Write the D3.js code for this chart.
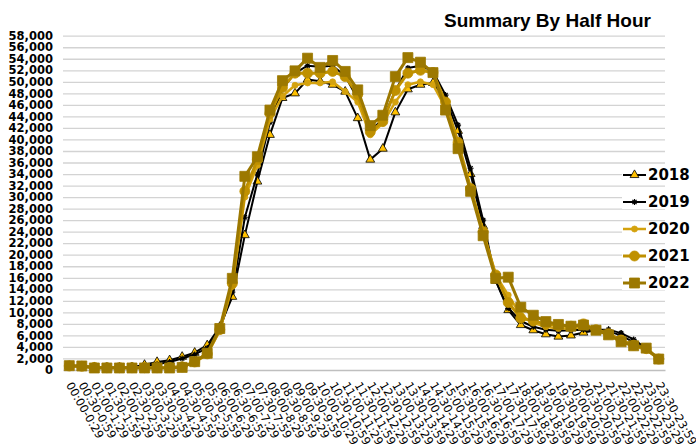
<!DOCTYPE html>
<html><head><meta charset="utf-8">
<script src="https://cdn.jsdelivr.net/npm/d3@7"></script>
<style>body{margin:0;background:#fff}svg{display:block}</style>
</head><body><svg id="c" width="696" height="448"></svg>
<script>
const categories = ["00:00-0:29","00:30-0:59","01:00-1:29","01:30-1:59","02:00-2:29","02:30-2:59","03:00-3:29","03:30-3:59","04:00-4:29","04:30-4:59","05:00-5:29","05:30-5:59","06:00-6:29","06:30-6:59","07:00-7:29","07:30-7:59","08:00-8:29","08:30-8:59","09:00-9:29","09:30-9:59","10:00-10:29","10:30-10:59","11:00-11:29","11:30-11:59","12:00-12:29","12:30-12:59","13:00-13:29","13:30-13:59","14:00-14:29","14:30-14:59","15:00-15:29","15:30-15:59","16:00-16:29","16:30-16:59","17:00-17:29","17:30-17:59","18:00-18:29","18:30-18:59","19:00-19:29","19:30-19:59","20:00-20:29","20:30-20:59","21:00-21:29","21:30-21:59","22:00-22:29","22:30-22:59","23:00-23:29","23:30-23:59"];
const seriesNames = ["2018","2019","2020","2021","2022"];
const v2018 = [700,650,500,450,450,500,900,1400,1700,2300,3000,4300,7500,12700,23400,32700,40800,47200,48000,50400,50100,49500,48300,43700,36500,38400,44700,48700,49500,49800,47000,41500,34000,25000,15500,10400,7800,6900,6200,5800,6000,6500,6900,6700,6000,4800,3500,1900];
const v2019 = [700,600,500,450,450,500,700,1000,1400,2000,2700,3800,7000,13500,26500,34000,43000,48800,51500,52800,52600,52800,51000,47000,41500,43500,48500,52400,52800,51800,47700,42500,35000,26000,15500,10700,8500,7500,7000,6800,6900,7000,7000,7000,6400,5300,3800,1900];
const v2020 = [700,600,450,400,400,400,400,400,450,600,1300,2700,6800,14500,30000,35500,43500,47500,49400,49800,49800,50000,48300,46500,40800,42800,46500,49500,50000,49500,45500,39000,31500,24000,16500,13000,9500,8200,7500,7200,7200,7500,7000,6200,5200,4200,3500,1900];
const v2021 = [700,650,450,400,400,400,400,400,450,550,1400,2800,7000,15000,31000,36500,44500,49000,51500,51500,51500,51800,50900,47800,41300,43100,48500,51500,52000,51600,46500,39500,31500,24000,16500,11700,9000,8500,8000,7700,7600,8000,7000,6300,5200,4300,3700,1900];
const v2022 = [750,700,350,350,350,350,350,350,350,450,1450,2900,7200,15900,33600,37000,45100,50200,51900,54100,52500,53700,51800,48600,42400,44200,50900,54200,53400,51600,45100,38400,31000,23300,15900,16100,10900,9500,8400,7900,7600,7800,6900,6100,4900,4200,3800,1900];
const yTicks = d3.range(0, 58001, 2000);
const titleText = "Summary By Half Hour";

const seriesValues = [v2018, v2019, v2020, v2021, v2022];
const styles = [
  {line:"#000000", w:2, marker:"triangle", fill:"#FFC000", stroke:"#000", size:34},
  {line:"#000000", w:2, marker:"asterisk", fill:"none", stroke:"#000", size:3},
  {line:"#D4A20E", w:2.5, marker:"circle", fill:"#D4A20E", stroke:"#D4A20E", size:3},
  {line:"#BF9000", w:3, marker:"circle", fill:"#BF9000", stroke:"#BF9000", size:5},
  {line:"#9C7800", w:3, marker:"square", fill:"#9C7800", stroke:"#9C7800", size:10}
];

const svg = d3.select("#c");
const mL = 63, mR = 665, mT = 35.7, mB = 370;
const x = d3.scaleBand().domain(categories).range([mL, mR]).padding(0);
const cx = d => x(d) + x.bandwidth()/2;
const y = d3.scaleLinear().domain([0, 58000]).range([mB, mT]);

// gridlines
svg.append("g").attr("transform", `translate(${mL},0)`)
  .call(d3.axisLeft(y).tickValues(yTicks.filter(t=>t>0)).tickSize(-(mR-mL)).tickFormat(""))
  .call(g => g.select(".domain").remove())
  .call(g => g.selectAll("line").attr("stroke", "#d3d3d3").attr("stroke-width", 1.3));

// y axis labels
svg.append("g").attr("transform", `translate(${mL},0)`)
  .call(d3.axisLeft(y).tickValues(yTicks).tickSize(0).tickPadding(10).tickFormat(d3.format(",")))
  .call(g => g.select(".domain").remove())
  .call(g => g.selectAll("text").attr("font-family","DejaVu Sans").attr("font-weight","bold").attr("font-size","11.5px").attr("fill","#000"));

// x axis
const xg = svg.append("g").attr("transform", `translate(0,${mB})`)
  .call(d3.axisBottom(x).tickSize(0).tickFormat(d=>d));
xg.select(".domain").attr("stroke", "#bfbfbf").attr("stroke-width", 1.5);
xg.selectAll("text")
  .attr("font-family","DejaVu Sans").attr("font-size","11.5px").attr("fill","#000")
  .attr("text-anchor","start")
  .attr("transform", "translate(0,13) rotate(60)")
  .attr("x", 0).attr("y", 0).attr("dy", "0.35em");

function markerPath(type, s) {
  if (type === "triangle") return d3.symbol(d3.symbolTriangle, s)();
  if (type === "circle") return d3.symbol(d3.symbolCircle, Math.PI*s*s)();
  if (type === "square") return d3.symbol(d3.symbolSquare, s*s)();
  if (type === "asterisk") {
    const r = s;
    return `M${-r},0L${r},0M${-r*0.7},${-r*0.7}L${r*0.7},${r*0.7}M${-r*0.7},${r*0.7}L${r*0.7},${-r*0.7}M0,${-r}L0,${r}`;
  }
}

const line = d3.line().x((d,i)=>cx(categories[i])).y(d=>y(d));

seriesValues.forEach((vals, si) => {
  const st = styles[si];
  const g = svg.append("g");
  g.append("path").datum(vals).attr("d", line).attr("fill","none")
    .attr("stroke", st.line).attr("stroke-width", st.w).attr("stroke-linejoin","round");
  g.selectAll("path.m").data(vals).join("path").attr("class","m")
    .attr("d", markerPath(st.marker, st.size))
    .attr("transform", (d,i)=>`translate(${cx(categories[i])},${y(d)})`)
    .attr("fill", st.fill).attr("stroke", st.stroke).attr("stroke-width", st.marker==="asterisk"?1.2:0.8);
});

// legend
const legY = [175, 202, 229, 256, 283];
seriesNames.forEach((name, i) => {
  const st = styles[i];
  const g = svg.append("g").attr("transform", `translate(0,${legY[i]})`);
  g.append("rect").attr("x", 622).attr("y", -7).attr("width", 74).attr("height", 14).attr("fill", "#fff");
  g.append("line").attr("x1", 623).attr("x2", 646).attr("y1", 0).attr("y2", 0)
    .attr("stroke", st.line).attr("stroke-width", st.w);
  g.append("path").attr("d", markerPath(st.marker, st.size)).attr("transform","translate(634.5,0)")
    .attr("fill", st.fill).attr("stroke", st.stroke).attr("stroke-width", st.marker==="asterisk"?1.2:0.8);
  g.append("text").attr("x", 648).attr("y", 0).attr("dy","0.36em").text(name)
    .attr("font-family","DejaVu Sans").attr("font-weight","bold").attr("font-size","15px").attr("fill","#000");
});

// title
svg.append("text").attr("x", 444).attr("y", 27).text(titleText)
  .attr("font-family","Liberation Sans").attr("font-weight","bold").attr("font-size","19px").attr("fill","#000");
</script>
</body></html>
